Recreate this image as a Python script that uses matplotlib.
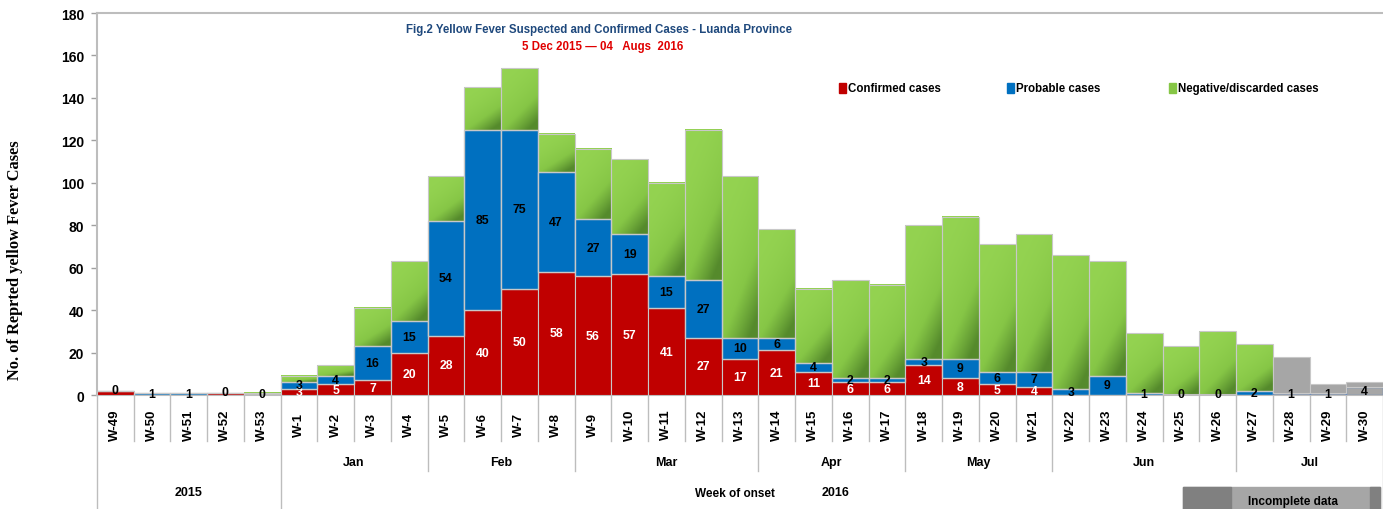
import numpy as np
import matplotlib
matplotlib.use('Agg')
import matplotlib.pyplot as plt
import matplotlib.transforms as mtransforms
from matplotlib.colors import LinearSegmentedColormap
from matplotlib.patches import Rectangle

# data
weeks = ['W-49', 'W-50', 'W-51', 'W-52', 'W-53'] + ['W-%d' % i for i in range(1, 31)]
confirmed = [2, 0, 0, 1, 0,
             3, 5, 7, 20, 28, 40, 50, 58, 56, 57, 41, 27, 17, 21, 11, 6, 6,
             14, 8, 5, 4, 0, 0, 0, 0, 0, 0, 0, 0, 0]
probable = [0, 1, 1, 0, 0,
            3, 4, 16, 15, 54, 85, 75, 47, 27, 19, 15, 27, 10, 6, 4, 2, 2,
            3, 9, 6, 7, 3, 9, 1, 0, 0, 2, 1, 1, 4]
discarded = [0, 0, 0, 0, 1,
             3, 5, 18, 28, 21, 20, 29, 18, 33, 35, 44, 71, 76, 51, 35, 46, 44,
             63, 67, 60, 65, 63, 54, 28, 23, 30, 22, 17, 4, 2]
month_of_week = ([''] * 5 + ['Jan'] * 4 + ['Feb'] * 4 + ['Mar'] * 5 + ['Apr'] * 4
                 + ['May'] * 4 + ['Jun'] * 5 + ['Jul'] * 4)
year_of_week = ['2015'] * 5 + ['2016'] * 30
incomplete = ['W-28', 'W-29', 'W-30']
series = ['Confirmed cases', 'Probable cases', 'Negative/discarded cases']

RED = '#C00000'
BLUE = '#0070C0'
GREEN = '#86C646'
GRAY = '#A6A6A6'
EDGE = '#C8C8C8'

plt.rcParams['font.family'] = ['Liberation Sans', 'DejaVu Sans']
plt.rcParams['font.weight'] = 'bold'

fig = plt.figure(figsize=(13.83, 5.10), dpi=100)
ax = fig.add_axes([0.070, 0.2235, 0.93, 0.749])

x = np.arange(len(weeks))
conf = np.array(confirmed)
prob = np.array(probable)
disc = np.array(discarded)
inc = np.array([w in incomplete for w in weeks])

ax.bar(x, conf, width=1, color=RED, edgecolor=EDGE, lw=0.8, zorder=3)
pcol = [GRAY if i else BLUE for i in inc]
pedge = ['#6A8DC0' if i else EDGE for i in inc]
ax.bar(x, prob, bottom=conf, width=1, color=pcol, edgecolor=pedge, lw=1.0, zorder=3)
dcol = [GRAY if i else 'none' for i in inc]
ax.bar(x, disc, bottom=conf + prob, width=1, color=dcol, edgecolor=EDGE, lw=0.8, zorder=3)

# green gradient fill: light at top, darker toward bottom-right
green = LinearSegmentedColormap.from_list('g', ['#94D351', '#86C646', '#558A2C'])
yy, xx = np.mgrid[0:1:60j, 0:1:20j]
grad = np.clip((yy * 0.7 + xx * 0.4) ** 2.0, 0, 1)
for xi, b, d, i in zip(x, conf + prob, disc, inc):
    if d <= 0 or i:
        continue
    ax.imshow(grad, extent=[xi - 0.5, xi + 0.5, b, b + d], origin='upper', cmap=green,
              vmin=0, vmax=1, aspect='auto', interpolation='bilinear', zorder=2)

# data labels
for xi, c, p in zip(x, conf, prob):
    if c >= 3:
        ax.text(xi, c / 2, str(c), ha='center', va='center', color='white',
                fontsize=8.8, fontweight='bold', zorder=5)
    ax.text(xi, c + max(p, 1) / 2, str(p), ha='center', va='center', color='black',
            fontsize=8.8, fontweight='bold', zorder=5)

ax.set_xlim(-0.5, len(weeks) - 0.5)
ax.set_ylim(0, 180)
ax.set_yticks(range(0, 181, 20))
ax.tick_params(axis='y', labelsize=10, length=4, color='#A0A0A0', width=1, pad=5)
for t in ax.get_yticklabels():
    t.set_fontweight('bold')
ax.set_xticks([])
ax.spines['right'].set_visible(False)
for s in ['left', 'top', 'bottom']:
    ax.spines[s].set_color('#BDBDBD')
    ax.spines[s].set_linewidth(1.5)

# multi-level category axis
tr = mtransforms.blended_transform_factory(ax.transData, ax.transAxes)
y_week, y_month, y_year = -0.120, -0.200, -0.300
lk = dict(color='#BDBDBD', lw=1.0, transform=tr, clip_on=False)
for xi, w in enumerate(weeks):
    ax.text(xi, -0.076, w, rotation=90, ha='center', va='center', transform=tr,
            fontsize=9.5, fontweight='bold')
for k in range(len(weeks) + 1):
    xb = k - 0.5
    depth = y_week
    if k == 0 or k == len(weeks) or month_of_week[k] != month_of_week[k - 1]:
        depth = y_month
    if k == 0 or k == len(weeks) or year_of_week[k] != year_of_week[k - 1]:
        depth = y_year
    ax.plot([xb, xb], [0, depth], **lk)


def groups(labels):
    out = []
    start = 0
    for k in range(1, len(labels) + 1):
        if k == len(labels) or labels[k] != labels[start]:
            out.append((labels[start], start, k - 1))
            start = k
    return out


for m, a, b in groups(month_of_week):
    if m:
        ax.text((a + b) / 2, -0.175, m, ha='center', va='center', transform=tr,
                fontsize=9, fontweight='bold')
ax.text(2, -0.254, '2015', ha='center', va='center', transform=tr, fontsize=9, fontweight='bold')
ax.text(19.6, -0.254, '2016', ha='center', va='center', transform=tr, fontsize=9, fontweight='bold')
fig.text(735 / 1383, 1 - 494 / 510, 'Week of onset', ha='center', va='center',
         fontsize=8.5, fontweight='bold')

# incomplete data box
fig.patches.append(Rectangle((1183 / 1383, 0), 197 / 1383, 22 / 510,
                             transform=fig.transFigure, color='#A6A6A6'))
fig.patches.append(Rectangle((1183 / 1383, 0), 48 / 1383, 22 / 510,
                             transform=fig.transFigure, color='#808080'))
fig.patches.append(Rectangle((1370 / 1383, 0), 10 / 1383, 22 / 510,
                             transform=fig.transFigure, color='#808080'))
fig.text(1293 / 1383, 1 - 502 / 510, 'Incomplete data', ha='center', va='center',
         fontsize=8.5, fontweight='bold')

# titles
fig.text(599 / 1383, 1 - 30 / 510, 'Fig.2 Yellow Fever Suspected and Confirmed Cases - Luanda Province',
         ha='center', va='center', color='#1F497D', fontsize=8.3, fontweight='bold')
fig.text(603 / 1383, 1 - 47 / 510, '5 Dec 2015 \u2014 04   Augs  2016',
         ha='center', va='center', color='#E00000', fontsize=8.3, fontweight='bold')

fig.text(15 / 1383, 1 - 260 / 510, 'No. of Reprted yellow Fever Cases', rotation=90,
         ha='center', va='center', fontsize=11.8, fontweight='bold',
         family=['Liberation Serif', 'DejaVu Serif'])

# legend
for name, col, px in zip(series, [RED, BLUE, GREEN], [839, 1007, 1169]):
    fig.patches.append(Rectangle((px / 1383, 1 - 94 / 510), 7 / 1383, 10 / 510,
                                 transform=fig.transFigure, color=col))
    fig.text((px + 9) / 1383, 1 - 89 / 510, name, ha='left', va='center',
             fontsize=8.3, fontweight='bold')

fig.savefig('out.png', dpi=100)
